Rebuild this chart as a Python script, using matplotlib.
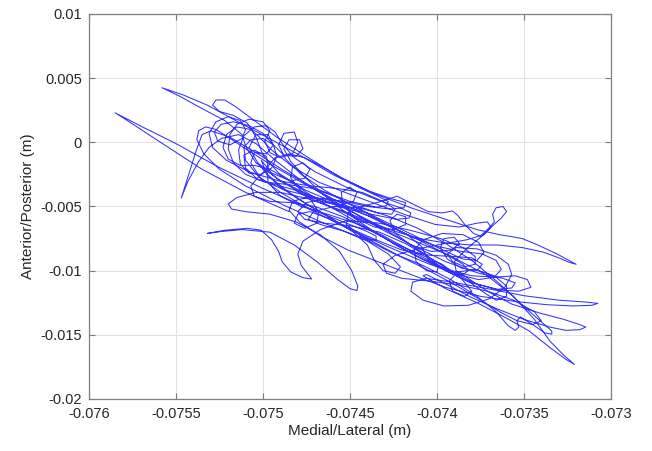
#!/usr/bin/env python3
# -*- coding: utf-8 -*-

"""
Centre-of-pressure path (stabilogram) in the horizontal plane.
Positions are stored in mm, plotted in m. Saves the figure as out.png.
"""

from pathlib import Path
import numpy as np
import matplotlib
matplotlib.use("Agg")
import matplotlib.pyplot as plt

# ---------------------------------------------------------------------
PNG_OUT = Path("out.png")

# COP path, cut into consecutive pieces (medial/lateral, anterior/posterior), mm
ml_a = [-74.85, -75.10, -75.35, -75.60, -75.78, -75.85, -75.70, -75.50, -75.26, -75.00,
        -74.76, -74.54, -74.41, -74.35, -74.35, -74.39, -74.48, -74.65, -74.88, -75.10,
        -75.25, -75.34, -75.38, -75.37, -75.33, -75.27, -75.20, -75.10, -74.96, -74.78,
        -74.57, -74.34, -74.12, -73.95, -73.85, -73.82, -73.85, -73.92, -74.06, -74.27,
        -74.50, -74.72, -74.90, -75.03, -75.10, -75.11, -75.07, -75.00, -74.94, -74.92,
        -74.95, -75.01, -75.08, -75.13, -75.14, -75.11, -75.05, -74.98, -74.93, -74.89]
ap_a = [-5.4, -3.9, -2.1, 0.1, 1.7, 2.3, 1.25, -0.1, -1.9, -3.6,
        -5.0, -6.2, -6.9, -7.3, -7.6, -7.6, -7.2, -6.3, -4.9, -3.4,
        -2.1, -0.9, 0.2, 0.9, 1.2, 1.0, 0.4, -0.5, -1.7, -3.1,
        -4.6, -6.1, -7.5, -8.7, -9.5, -10.0, -10.3, -10.1, -9.4, -8.2,
        -6.8, -5.3, -3.9, -2.6, -1.4, -0.4, 0.2, 0.3, -0.2, -1.1,
        -2.0, -2.5, -2.4, -1.7, -0.6, 0.5, 1.2, 1.3, 0.8, -0.1]

ml_b = [-74.82, -74.70, -74.52, -74.34, -74.21, -74.15, -74.16, -74.23, -74.38, -74.57,
        -74.76, -74.91, -75.00, -75.04, -75.09, -75.17, -75.25, -75.29, -75.27, -75.22,
        -75.16, -75.06, -74.92, -74.75, -74.56, -74.36, -74.15, -73.95, -73.77, -73.64,
        -73.57, -73.51, -73.42, -73.31, -73.20, -73.24, -73.30, -73.39, -73.51, -73.65,
        -73.80, -73.95, -74.10, -74.25, -74.40, -74.57, -74.74, -74.90, -75.04, -75.15,
        -75.20, -75.18, -75.10, -74.96, -74.81, -74.67, -74.56, -74.49, -74.455, -74.46]
ap_b = [-1.2, -2.3, -3.5, -4.5, -5.1, -5.5, -5.9, -6.0, -5.6, -4.8,
        -3.7, -2.4, -1.0, 0.4, 1.5, 2.1, 2.4, 2.9, 3.3, 3.3,
        2.8, 1.8, 0.4, -1.1, -2.7, -4.0, -5.1, -6.0, -6.8, -7.2,
        -7.35, -7.5, -8.0, -8.7, -9.5, -9.35, -9.0, -8.55, -8.2, -8.0,
        -8.0, -7.85, -7.5, -6.9, -6.1, -5.2, -4.4, -3.9, -3.9, -4.3,
        -4.8, -5.2, -5.4, -5.6, -6.2, -7.2, -8.5, -10.0, -11.2, -11.55]

ml_c = [-74.50, -74.57, -74.69, -74.82, -74.96, -75.12, -75.24, -75.32, -75.22, -75.09,
        -75.01, -74.95, -74.91, -74.89, -74.84, -74.77, -74.72, -74.74, -74.78, -74.80,
        -74.77, -74.67, -74.52, -74.33, -74.14, -73.98, -73.85, -73.78, -73.78, -73.84,
        -73.91, -73.94, -73.89, -73.77, -73.66, -73.59, -73.57, -73.61, -73.70, -73.82,
        -73.96, -74.08, -74.15, -74.14, -74.06, -73.91, -73.71, -73.50, -73.30, -73.14,
        -73.075, -73.11, -73.22, -73.37, -73.55, -73.75, -73.95, -74.15, -74.34, -74.51]
ap_c = [-11.4, -10.7, -9.3, -8.0, -7.0, -6.8, -6.95, -7.1, -6.85, -6.7,
        -6.85, -7.6, -8.5, -9.3, -10.1, -10.55, -10.65, -10.3, -9.6, -8.7,
        -7.7, -6.8, -6.1, -6.3, -6.9, -7.5, -8.2, -8.9, -9.5, -9.7,
        -9.3, -8.7, -8.2, -8.3, -8.8, -9.5, -10.3, -11.3, -12.2, -12.7,
        -12.75, -12.3, -11.6, -10.9, -10.6, -10.9, -11.4, -11.95, -12.3, -12.45,
        -12.55, -12.7, -12.75, -12.65, -12.4, -12.0, -11.3, -10.3, -9.3, -8.4]

ml_d = [-74.67, -74.79, -74.85, -74.83, -74.75, -74.62, -74.45, -74.27, -74.11, -73.96,
        -73.80, -73.65, -73.50, -73.39, -73.34, -73.34, -73.38, -73.45, -73.52, -73.54,
        -73.53, -73.55, -73.59, -73.66, -73.77, -73.92, -74.08, -74.26, -74.42, -74.52,
        -74.51, -74.43, -74.32, -74.23, -74.14, -74.05, -73.97, -73.91, -73.88, -73.84,
        -73.79, -73.75, -73.71, -73.67, -73.68, -73.66, -73.62, -73.60, -73.63, -73.68,
        -73.74, -73.83, -73.90, -73.89, -73.82, -73.71, -73.57, -73.41, -73.27, -73.18]
ap_d = [-7.3, -6.2, -5.3, -4.6, -4.3, -4.4, -5.0, -5.8, -6.7, -7.8,
        -9.2, -10.9, -12.8, -14.1, -14.7, -14.95, -14.85, -14.2, -13.6, -13.9,
        -14.4, -14.65, -14.3, -13.2, -12.0, -10.7, -9.6, -8.6, -7.5, -6.4,
        -5.5, -5.0, -4.6, -4.2, -4.8, -5.4, -5.5, -5.35, -5.7, -6.4,
        -7.1, -7.3, -6.8, -6.2, -5.6, -5.1, -5.0, -5.4, -5.9, -6.5,
        -7.3, -8.3, -9.3, -10.0, -10.6, -11.6, -12.6, -13.3, -13.8, -14.2]

ml_e = [-73.145, -73.18, -73.26, -73.35, -73.50, -73.65, -73.80, -73.94, -74.06, -74.08,
        -73.95, -73.77, -73.60, -73.47, -73.35, -73.26, -73.21, -73.27, -73.35, -73.44,
        -73.56, -73.72, -73.93, -74.18, -74.44, -74.69, -74.89, -75.04, -75.10, -75.12,
        -75.22, -75.36, -75.48, -75.58, -75.46, -75.32, -75.13, -74.95, -74.75, -74.60,
        -74.45, -74.34, -74.28, -74.29, -74.35, -74.50, -74.70, -74.88, -75.04, -75.19,
        -75.30, -75.35, -75.38, -75.42, -75.47, -75.43, -75.37, -75.31, -75.24, -75.14]
ap_e = [-14.4, -14.6, -14.65, -14.4, -13.8, -13.0, -12.1, -11.1, -10.3, -10.4,
        -11.4, -12.5, -13.7, -14.7, -16.0, -16.9, -17.3, -16.6, -15.5, -13.8,
        -12.0, -10.3, -8.8, -7.4, -6.0, -4.6, -3.1, -1.6, -0.3, 0.6,
        1.7, 2.7, 3.6, 4.25, 3.7, 2.9, 1.5, 0.2, -1.3, -2.5,
        -3.5, -4.2, -4.6, -4.95, -5.05, -4.6, -3.6, -2.2, -0.8, 0.4,
        0.9, 0.6, -0.5, -2.2, -4.35, -3.0, -1.5, -0.4, 0.3, 0.6]

ml_f = [-75.04, -74.92, -74.75, -74.55, -74.33, -74.13, -73.95, -73.76, -73.62, -73.55,
        -73.57, -73.65, -73.80, -73.95, -74.05, -74.09, -74.17, -74.34, -74.54, -74.74,
        -74.91, -75.03, -75.08, -75.04, -74.97, -74.94, -74.98, -75.05, -75.07, -75.01,
        -74.88, -74.70, -74.52, -74.36, -74.21, -74.07, -73.99, -74.00, -74.06, -74.12,
        -74.13, -74.08, -73.97, -73.85, -73.76, -73.73, -73.77, -73.85, -73.98, -74.14,
        -74.31, -74.49, -74.65, -74.78, -74.87, -74.91, -74.88, -74.82, -74.80, -74.83]
ap_f = [-0.1, -1.5, -3.3, -4.9, -6.7, -8.1, -9.3, -10.2, -10.6, -10.95,
        -11.35, -11.45, -10.95, -10.0, -9.1, -8.1, -7.2, -6.0, -5.0, -4.1,
        -2.9, -1.6, -0.4, 0.6, 0.6, -0.2, -0.9, -0.8, -1.6, -2.9,
        -3.7, -4.3, -5.2, -6.3, -7.5, -8.7, -9.6, -10.1, -10.0, -9.3,
        -8.4, -7.6, -7.1, -7.2, -7.8, -8.6, -9.2, -9.1, -8.3, -7.2,
        -6.1, -4.9, -3.7, -2.5, -1.3, -0.2, 0.7, 0.8, 0.0, -0.9]

ml_g = [-74.90, -74.96, -74.99, -74.96, -75.00, -75.08, -75.15, -75.19, -75.20, -75.17,
        -75.10, -74.99, -74.85, -74.71, -74.57, -74.42, -74.28, -74.14, -74.00, -73.86,
        -73.74, -73.66, -73.63, -73.67, -73.76, -73.88, -74.02, -74.17, -74.32, -74.47,
        -74.63, -74.78, -74.90, -74.97, -74.98, -74.93, -74.85, -74.76, -74.66, -74.53,
        -74.39, -74.26, -74.18, -74.19, -74.27, -74.40, -74.53, -74.65, -74.75, -74.80,
        -74.76, -74.65, -74.50, -74.33, -74.18, -74.04, -73.91, -73.78, -73.65, -73.53]
ap_g = [-1.2, -0.8, 0.1, 0.9, 1.6, 1.8, 1.4, 0.6, -0.5, -1.6,
        -2.5, -3.1, -3.3, -3.6, -4.3, -5.4, -6.5, -7.4, -8.1, -8.5,
        -8.7, -9.2, -9.9, -10.5, -10.7, -10.3, -9.4, -8.3, -7.2, -6.3,
        -5.6, -5.0, -4.2, -3.1, -2.0, -1.2, -0.9, -1.2, -1.9, -2.9,
        -3.8, -4.4, -4.7, -5.1, -5.2, -5.0, -4.6, -4.4, -4.7, -5.4,
        -6.0, -6.3, -6.5, -7.0, -7.9, -9.0, -10.1, -11.0, -11.5, -11.6]

ml_h = [-73.46, -73.48, -73.55, -73.66, -73.80, -73.94, -74.08, -74.22, -74.36, -74.50,
        -74.63, -74.75, -74.86, -74.96, -75.05, -75.13, -75.20, -75.23, -75.21, -75.15,
        -75.07, -75.02, -74.95, -74.83, -74.68, -74.51, -74.33, -74.17, -74.01, -73.87,
        -73.77, -73.71, -73.69, -73.73, -73.83, -73.96, -74.11, -74.24, -74.31, -74.29,
        -74.20, -74.05, -73.88, -73.71, -73.56, -73.44, -73.40, -73.45, -73.54, -73.64,
        -73.76, -73.91, -74.06, -74.21, -74.36, -74.51, -74.66, -74.80, -74.91, -74.98,
        -75.01]
ap_h = [-11.3, -10.7, -10.4, -10.5, -10.4, -9.9, -9.1, -8.1, -7.0, -5.9,
        -4.9, -3.9, -2.9, -2.1, -1.8, -1.8, -1.3, -0.4, 0.6, 1.2,
        1.0, 0.4, -0.6, -1.9, -3.1, -4.0, -4.9, -5.7, -6.4, -6.6,
        -6.3, -6.2, -6.6, -7.2, -7.6, -7.9, -8.3, -8.8, -9.5, -10.2,
        -10.6, -10.8, -11.1, -11.6, -12.3, -13.2, -13.9, -14.2, -13.9, -13.2,
        -12.2, -11.0, -9.9, -8.9, -7.8, -6.7, -5.5, -4.4, -3.4, -2.4,
        -1.4]

ml_i = [-74.95, -74.84, -74.76, -74.73, -74.77, -74.83, -74.84, -74.78, -74.67, -74.56,
        -74.48, -74.46, -74.50, -74.55, -74.54, -74.47, -74.36, -74.25, -74.18, -74.18,
        -74.23, -74.27, -74.24, -74.15, -74.03, -73.92, -73.87, -73.90, -73.96, -73.98,
        -73.94, -73.86, -73.77, -73.74, -73.80, -73.90, -74.04, -74.20, -74.35, -74.50,
        -74.63, -74.73, -74.80, -74.82, -74.76, -74.69, -74.68, -74.73, -74.82, -74.93,
        -75.03, -75.10, -75.11, -75.05, -74.98, -74.97, -75.02, -75.07, -75.05, -74.96,
        -74.84, -74.70, -74.54, -74.38, -74.24, -74.10, -73.97, -73.86, -73.80, -73.84,
        -73.91, -73.93, -73.88, -73.78, -73.67, -73.60, -73.60, -73.66, -73.72]
ap_i = [-2.4, -3.0, -2.8, -2.1, -1.6, -1.9, -2.8, -3.8, -4.6, -4.9,
        -4.6, -3.9, -3.5, -3.9, -4.9, -5.9, -6.6, -6.8, -6.4, -5.8,
        -5.6, -6.1, -7.1, -8.0, -8.5, -8.4, -7.9, -7.4, -7.5, -8.2,
        -9.1, -9.8, -10.0, -9.5, -9.0, -8.9, -8.8, -8.4, -7.6, -6.7,
        -5.9, -5.4, -5.6, -6.3, -6.7, -6.3, -5.4, -4.4, -3.7, -3.3,
        -2.9, -2.0, -1.0, -0.6, -1.1, -2.0, -2.6, -3.4, -4.2, -4.6,
        -4.7, -5.0, -5.8, -6.9, -7.9, -8.7, -9.5, -10.6, -11.6, -12.0,
        -11.6, -10.8, -10.1, -9.9, -10.4, -11.2, -12.0, -12.3, -11.8]

ml_j = [-73.80, -73.95, -74.10, -74.25, -74.40, -74.54, -74.66, -74.76, -74.84, -74.88,
        -74.85, -74.79, -74.77, -74.81, -74.88, -74.94, -75.00, -75.08, -75.17, -75.24,
        -75.28, -75.26, -75.19, -75.12, -75.10, -75.13, -75.20, -75.27, -75.31, -75.29,
        -75.21, -75.08, -74.91, -74.73, -74.57, -74.43, -74.31, -74.24, -74.26, -74.34,
        -74.45, -74.59, -74.71, -74.74, -74.67, -74.54, -74.40, -74.28, -74.21, -74.24,
        -74.31, -74.36, -74.40, -74.48, -74.60, -74.74, -74.87, -74.97, -75.03]
ap_j = [-11.0, -10.0, -9.0, -7.9, -6.6, -5.3, -4.0, -2.7, -1.5, -0.5,
        0.2, 0.2, -0.5, -1.1, -1.0, -0.2, 0.7, 1.3, 1.6, 1.4,
        0.8, 0.1, -0.2, 0.3, 1.0, 1.7, 2.0, 1.6, 0.7, -0.4,
        -1.4, -2.3, -3.0, -3.4, -3.6, -3.9, -4.6, -5.2, -5.6, -5.5,
        -5.1, -5.0, -5.4, -6.0, -6.4, -6.9, -7.7, -8.7, -9.7, -10.2,
        -10.0, -9.2, -8.0, -7.0, -6.0, -4.9, -3.7, -2.6, -1.6]

x_ticks = [-0.076, -0.0755, -0.075, -0.0745, -0.074, -0.0735, -0.073]
x_labels = ["-0.076", "-0.0755", "-0.075", "-0.0745", "-0.074", "-0.0735", "-0.073"]
y_ticks = [0.01, 0.005, 0.0, -0.005, -0.01, -0.015, -0.02]
y_labels = ["0.01", "0.005", "0", "-0.005", "-0.01", "-0.015", "-0.02"]


def main() -> None:
    plt.rcParams["font.family"] = ["Liberation Sans", "DejaVu Sans"]

    # 1) join the pieces, mm -> m
    ml = np.concatenate([ml_a, ml_b, ml_c, ml_d, ml_e, ml_f, ml_g, ml_h, ml_i, ml_j]) / 1000.0
    ap = np.concatenate([ap_a, ap_b, ap_c, ap_d, ap_e, ap_f, ap_g, ap_h, ap_i, ap_j]) / 1000.0

    # 2) figure
    fig = plt.figure(figsize=(6.52, 4.51), dpi=100)
    ax = fig.add_axes([0.1365, 0.1153, 0.8005, 0.8537])

    ax.plot(ml, ap, color="#0000ff", linewidth=0.75, alpha=0.8,
            solid_joinstyle="round")

    ax.set_xlim(-0.076, -0.073)
    ax.set_ylim(-0.02, 0.01)
    ax.set_xticks(x_ticks)
    ax.set_xticklabels(x_labels)
    ax.set_yticks(y_ticks)
    ax.set_yticklabels(y_labels)

    # boxed axes, inward ticks on every side
    ax.tick_params(direction="in", length=4, width=0.8, color="#777777",
                   top=True, right=True, labelsize=10.5, labelcolor="#262626")
    ax.tick_params(axis="x", pad=6)
    ax.tick_params(axis="y", pad=5)
    for sp in ax.spines.values():
        sp.set_color("#808080")
        sp.set_linewidth(0.9)

    ax.grid(True, color="#e2e2e2", linewidth=0.8)
    ax.set_axisbelow(True)

    ax.set_xlabel("Medial/Lateral (m)", fontsize=11, color="#262626", labelpad=2)
    ax.set_ylabel("Anterior/Posterior (m)", fontsize=11, color="#262626", labelpad=4)

    fig.savefig(PNG_OUT, dpi=100)


if __name__ == "__main__":
    main()
